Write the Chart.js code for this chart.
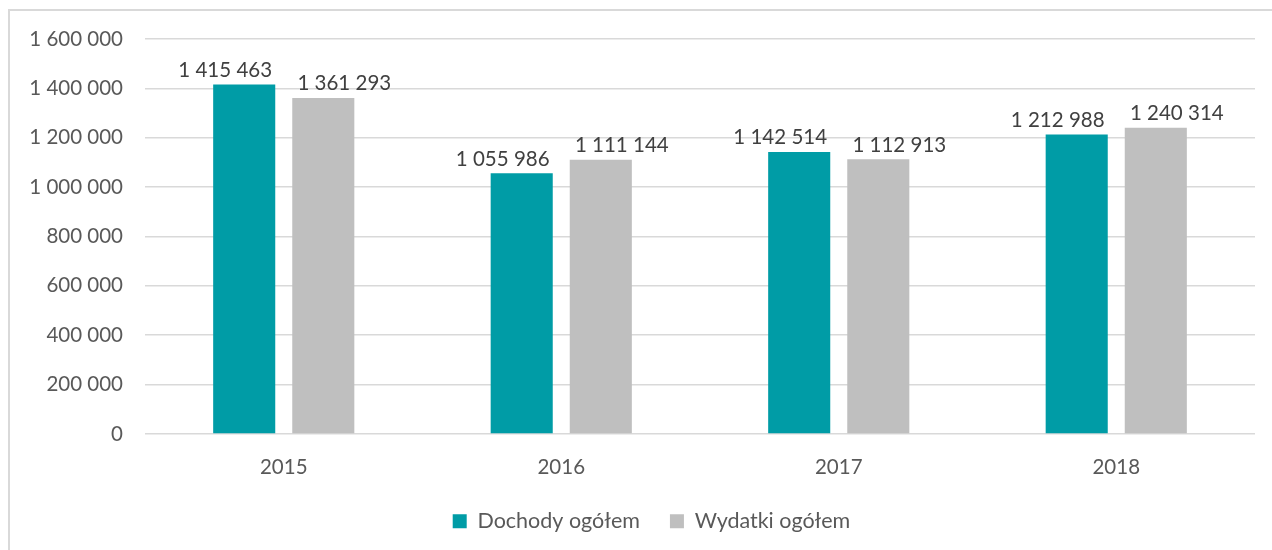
<!DOCTYPE html>
<html lang="pl">
<head>
<meta charset="UTF-8">
<title>Dochody i wydatki</title>
<script src="https://cdn.jsdelivr.net/npm/chart.js@4.4.1/dist/chart.umd.min.js"></script>
<style>
    html, body { margin: 0; padding: 0; background: #fff; overflow: hidden; }
    #wrap { position: relative; width: 1272px; height: 550px; }
    #frame { position: absolute; left: 8px; top: 9px; width: 1300px; height: 600px;
             border: 2px solid #d9d9d9; box-sizing: border-box; pointer-events: none; }
</style>
</head>
<body>
<div id="wrap">
    <canvas id="chart" width="1272" height="550"></canvas>
    <div id="frame"></div>
</div>
<script>
    const years = ['2015', '2016', '2017', '2018'];
    const dochody = [1415463, 1055986, 1142514, 1212988];
    const wydatki = [1361293, 1111144, 1112913, 1240314];
    const yTicks = [0, 200000, 400000, 600000, 800000, 1000000, 1200000, 1400000, 1600000];

    const fmt = v => String(v).replace(/\B(?=(\d{3})+(?!\d))/g, ' ');
    const FONT = 'Lato, "Open Sans", sans-serif';
    const TXT = '#595959';

    // value labels above bars, nudged apart like in the Excel original
    const barLabels = {
        id: 'barLabels',
        afterDatasetsDraw(chart) {
            const ctx = chart.ctx;
            ctx.save();
            ctx.font = '20.5px ' + FONT;
            ctx.fillStyle = '#404040';
            ctx.textAlign = 'center';
            ctx.textBaseline = 'bottom';
            chart.data.datasets.forEach((ds, i) => {
                const shift = i === 0 ? -19 : 21;
                chart.getDatasetMeta(i).data.forEach((bar, j) => {
                    ctx.fillText(fmt(ds.data[j]), bar.x + shift, bar.y - 4);
                });
            });
            ctx.restore();
        }
    };

    // Excel centres the legend a bit right of the canvas middle
    const legendShift = {
        id: 'legendShift',
        afterLayout(chart) {
            chart.legend.left += 24;
            chart.legend.right += 24;
        }
    };

    new Chart(document.getElementById('chart'), {
        type: 'bar',
        data: {
            labels: years,
            datasets: [
                { label: 'Dochody ogółem', data: dochody, backgroundColor: '#009ca6' },
                { label: 'Wydatki ogółem', data: wydatki, backgroundColor: '#bfbfbf' }
            ]
        },
        options: {
            responsive: false,
            animation: false,
            layout: { padding: { top: 39, right: 17, left: 0, bottom: 8 } },
            datasets: { bar: { categoryPercentage: 0.57, barPercentage: 0.785 } },
            plugins: {
                legend: {
                    position: 'bottom',
                    labels: {
                        color: TXT, font: { family: FONT, size: 21.5 },
                        boxWidth: 14, boxHeight: 14, padding: 30
                    }
                },
                tooltip: { enabled: false }
            },
            scales: {
                x: {
                    grid: { display: false },
                    border: { display: false },
                    afterFit: s => { s.height = s.height - 12; },
                    ticks: { color: TXT, font: { family: FONT, size: 20.5 }, padding: 13 }
                },
                y: {
                    min: 0, max: 1600000,
                    afterBuildTicks: s => { s.ticks = yTicks.map(v => ({ value: v })); },
                    afterFit: s => { s.width = 145; },
                    grid: { color: '#d9d9d9', lineWidth: 1.5, drawTicks: false },
                    border: { display: false },
                    ticks: { color: TXT, font: { family: FONT, size: 20.5 }, padding: 22,
                             callback: v => fmt(v) }
                }
            }
        },
        plugins: [barLabels, legendShift]
    });
</script>
</body>
</html>
